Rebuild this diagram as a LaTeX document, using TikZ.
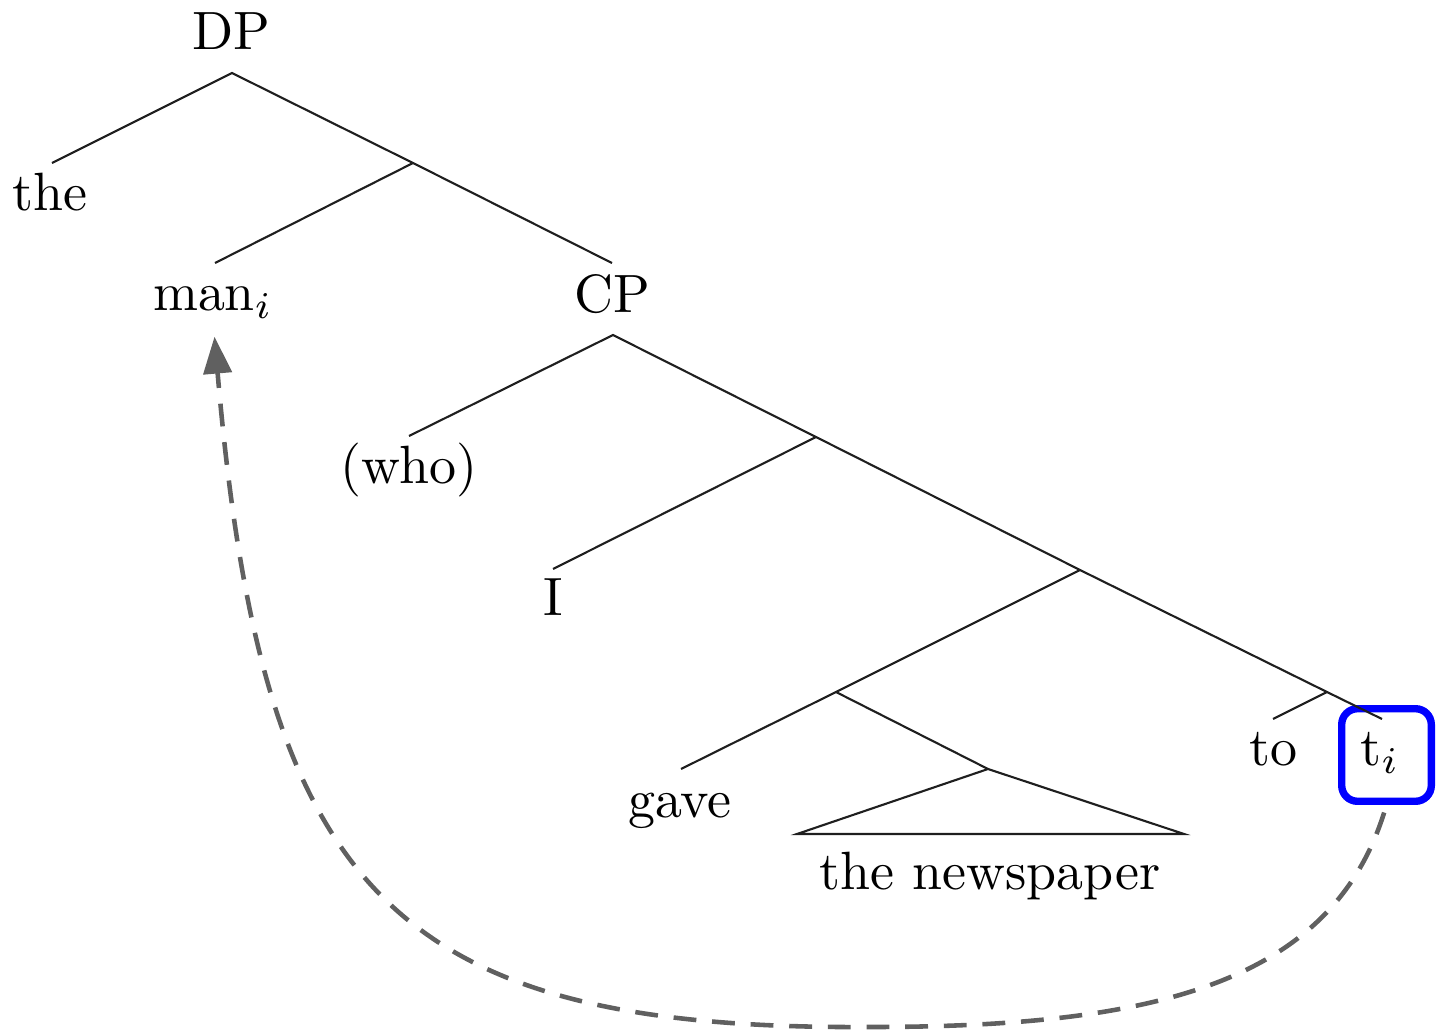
\documentclass[tikz,border=0pt]{standalone}
\usetikzlibrary{arrows.meta}
\definecolor{tracegray}{RGB}{96,96,96}
\begin{document}
\begin{tikzpicture}[x=0.02cm,y=-0.02cm,
  word/.style={font=\fontsize{10}{12}\selectfont,scale=3.07,inner sep=0pt,anchor=base},
  branch/.style={line width=1.2pt,color=black!88},
  move/.style={line width=2.6pt,color=tracegray,dash pattern=on 13pt off 9pt,
    -{Triangle[length=21pt,width=16pt]},shorten <=4.5pt,shorten >=10pt}]
\useasboundingbox (0,0) rectangle (1437,1031);
% words
\node[word] (DP) at (231,50) {DP};
\node[word] (the) at (50,210) {the};
\node[word] (man_i) at (213,310) {man$_i$};
\node[word] (CP) at (612,312) {CP};
\node[word] (who) at (409,483) {(who)};
\node[word] (I) at (553,615) {I};
\node[word] (gave) at (680,817) {gave};
\node[word] (NP) at (990,889) {the newspaper};
\node[word] (to) at (1273,765) {to};
\node[word] (t_i) at (1380,765) {t$_i$};
\node[draw=blue,line width=4.2pt,rounded corners=9pt,minimum width=51pt,minimum height=52.7pt,inner sep=0pt] (tbox) at (1386.5,755) {};
% branch points
\coordinate (DP-b) at (232,73);
\coordinate (n1) at (413,163);
\coordinate (CP-b) at (613,335);
\coordinate (n2) at (816,437);
\coordinate (n3) at (1080,570);
\coordinate (n4) at (836,692);
\coordinate (n5) at (1327,692);
\coordinate (NP-b) at (988,769);
% leaf ends
\coordinate (the-t) at (52,163);
\coordinate (man-t) at (215,263);
\coordinate (CP-t) at (612,263);
\coordinate (who-t) at (409,436);
\coordinate (I-t) at (553,569);
\coordinate (gave-t) at (681,769);
\coordinate (to-t) at (1273,719);
\coordinate (ti-t) at (1382,719);
\coordinate (NP-l) at (797,834);
\coordinate (NP-r) at (1184,834);
\draw[branch] (the-t) -- (DP-b) -- (n1) -- (CP-t);
\draw[branch] (man-t) -- (n1);
\draw[branch] (who-t) -- (CP-b) -- (n2) -- (n3) -- (n5) -- (ti-t);
\draw[branch] (I-t) -- (n2);
\draw[branch] (n3) -- (n4) -- (gave-t);
\draw[branch] (n4) -- (NP-b);
\draw[branch] (to-t) -- (n5);
\draw[branch] (NP-b) -- (NP-l) -- (NP-r) -- cycle;
\draw[move] (tbox.south) .. controls (1330,985) and (1150,1027) .. (870,1027)
  .. controls (390,1030) and (262,890) .. (man_i.south);
\end{tikzpicture}
\end{document}
